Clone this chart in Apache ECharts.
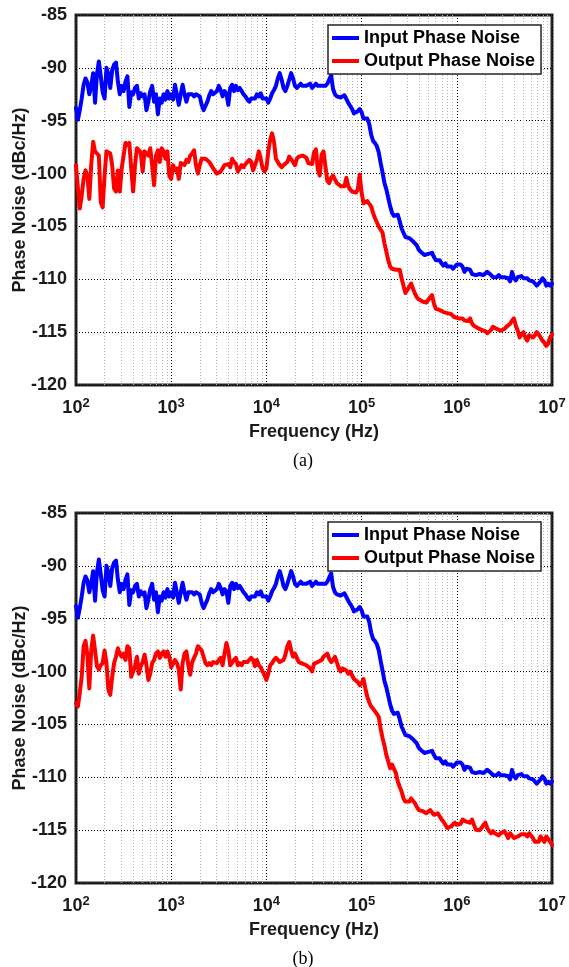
<!DOCTYPE html>
<html>
<head>
<meta charset="utf-8">
<script src="https://cdn.jsdelivr.net/npm/echarts@6/dist/echarts.min.js"></script>
<style>
  html, body { margin: 0; padding: 0; background: #fff; }
  #main { width: 569px; height: 967px; }
</style>
</head>
<body>
<div id="main"></div>
<script>
// measurement frequencies (Hz), 50 points per decade
var freq = [
  100, 104.7, 109.6, 114.8, 120.2, 125.9, 131.8, 138.0, 144.5, 151.4, 158.5, 166.0, 173.8, 182.0, 190.5, 199.5, 208.9, 218.8, 229.1, 239.9,
  251.2, 263.0, 275.4, 288.4, 302.0, 316.2, 331.1, 346.7, 363.1, 380.2, 398.1, 416.9, 436.5, 457.1, 478.6, 501.2, 524.8, 549.5, 575.4, 602.6,
  631.0, 660.7, 691.8, 724.4, 758.6, 794.3, 831.8, 871.0, 912.0, 955.0,
  1000, 1047, 1096, 1148, 1202, 1259, 1318, 1380, 1445, 1514, 1585, 1660, 1738, 1820, 1905, 1995, 2089, 2188, 2291, 2399,
  2512, 2630, 2754, 2884, 3020, 3162, 3311, 3467, 3631, 3802, 3981, 4169, 4365, 4571, 4786, 5012, 5248, 5495, 5754, 6026,
  6310, 6607, 6918, 7244, 7586, 7943, 8318, 8710, 9120, 9550,
  10000, 10470, 10960, 11480, 12020, 12590, 13180, 13800, 14450, 15140, 15850, 16600, 17380, 18200, 19050, 19950, 20890, 21880, 22910, 23990,
  25120, 26300, 27540, 28840, 30200, 31620, 33110, 34670, 36310, 38020, 39810, 41690, 43650, 45710, 47860, 50120, 52480, 54950, 57540, 60260,
  63100, 66070, 69180, 72440, 75860, 79430, 83180, 87100, 91200, 95500,
  100000, 104700, 109600, 114800, 120200, 125900, 131800, 138000, 144500, 151400, 158500, 166000, 173800, 182000, 190500, 199500, 208900, 218800, 229100, 239900,
  251200, 263000, 275400, 288400, 302000, 316200, 331100, 346700, 363100, 380200, 398100, 416900, 436500, 457100, 478600, 501200, 524800, 549500, 575400, 602600,
  631000, 660700, 691800, 724400, 758600, 794300, 831800, 871000, 912000, 955000,
  1e6, 1.047e6, 1.096e6, 1.148e6, 1.202e6, 1.259e6, 1.318e6, 1.38e6, 1.445e6, 1.514e6, 1.585e6, 1.66e6, 1.738e6, 1.82e6, 1.905e6, 1.995e6, 2.089e6, 2.188e6, 2.291e6, 2.399e6,
  2.512e6, 2.63e6, 2.754e6, 2.884e6, 3.02e6, 3.162e6, 3.311e6, 3.467e6, 3.631e6, 3.802e6, 3.981e6, 4.169e6, 4.365e6, 4.571e6, 4.786e6, 5.012e6, 5.248e6, 5.495e6, 5.754e6, 6.026e6,
  6.31e6, 6.607e6, 6.918e6, 7.244e6, 7.586e6, 7.943e6, 8.318e6, 8.71e6, 9.12e6, 9.55e6, 1e7
];

// input phase noise (same in both panels)
var inputPN = [
  -93.8, -94.9, -94.0, -92.9, -91.6, -91.0, -91.4, -92.5, -91.7, -90.5,
  -93.3, -90.6, -89.4, -90.8, -92.3, -92.9, -90.0, -90.6, -91.9, -90.2,
  -89.7, -89.5, -91.3, -92.5, -91.7, -92.2, -91.3, -90.8, -93.7, -92.3,
  -92.5, -91.9, -91.7, -92.9, -92.4, -92.7, -92.5, -94.0, -93.2, -92.2,
  -91.7, -93.2, -92.5, -94.4, -92.9, -93.3, -92.5, -93.0, -92.2, -92.9,
  -92.5, -93.0, -91.6, -91.7, -93.5, -92.5, -91.6, -92.5, -93.2, -92.5,
  -92.4, -92.5, -92.7, -92.5, -92.6, -92.7, -93.5, -94.0, -94.1, -93.2,
  -92.6, -92.2, -92.5, -92.5, -92.2, -91.7, -92.1, -92.7, -92.2, -92.4,
  -93.5, -91.9, -91.6, -92.2, -91.7, -92.1, -91.9, -92.2, -92.5, -92.7,
  -93.0, -93.2, -92.9, -93.0, -92.9, -92.5, -92.7, -92.4, -92.9, -92.9,
  -92.9, -93.3, -92.9, -92.4, -92.1, -91.7, -91.0, -90.5, -91.1, -91.9,
  -92.2, -91.7, -91.1, -90.5, -91.0, -91.7, -91.9, -91.7,
  -91.5, -91.7, -91.8, -91.7, -91.6, -91.5, -91.9, -92.0, -91.5, -91.7,
  -91.7, -91.7, -91.7, -91.7, -91.5, -91.5, -90.7, -92.0, -92.5, -92.7,
  -92.8, -92.8, -92.7, -92.6, -92.5, -93.3, -93.6, -93.9, -94.3, -94.4,
  -94.1, -93.9, -94.2, -94.8, -94.8, -94.8, -95.3, -96.3, -96.9, -97.1,
  -97.4, -98.0, -99.0, -99.9, -100.9, -101.5, -102.3, -103.1, -103.7, -104.0,
  -104.0, -103.9, -104.5, -105.2, -105.6, -106.0, -106.0, -106.1, -106.1, -106.4,
  -106.6, -106.8, -107.2, -107.4, -107.5, -107.7, -107.6, -107.6, -107.7, -107.5,
  -107.9, -108.2, -108.3, -108.2, -108.5, -108.7, -108.5, -108.8, -108.8, -108.8,
  -109.0, -109.1, -108.6, -108.5, -108.6, -108.8, -109.3, -109.0, -109.0, -109.1,
  -109.5, -109.6, -109.6, -109.5, -109.5, -109.5, -109.6, -109.6, -109.3, -109.3,
  -109.6, -109.8, -109.8, -109.8, -109.6, -109.8, -109.8, -109.8, -109.9, -109.9,
  -110.2, -109.3, -109.9, -110.1, -109.8, -109.8, -109.7, -109.9, -109.9, -109.9,
  -110.1, -110.2, -110.2, -110.4, -110.6, -110.4, -110.2, -109.9, -110.1, -110.6,
  -110.4, -110.6, -110.4
];

// output phase noise, panel (a)
var outputA = [
  -99.2, -101.4, -103.3, -102.1, -100.5, -99.7, -100.2, -102.4, -99.2, -97.0,
  -97.9, -98.1, -98.3, -102.7, -103.2, -100.2, -97.9, -97.9, -98.1, -99.2,
  -101.4, -101.7, -99.7, -101.7, -99.5, -98.3, -97.1, -97.3, -97.1, -99.5,
  -101.7, -99.2, -97.6, -97.6, -98.0, -99.8, -97.9, -97.8, -98.3, -97.6,
  -99.2, -101.1, -98.3, -97.8, -98.9, -97.6, -97.9, -98.6, -97.9, -100.2,
  -100.5, -99.2, -99.7, -99.5, -100.5, -99.0, -98.9, -99.2, -98.7, -98.9,
  -98.3, -98.1, -97.8, -99.2, -100.0, -99.2, -98.6, -98.7, -98.6, -98.7,
  -98.9, -99.2, -99.5, -99.4, -100.0, -99.9, -99.8, -99.5, -99.2, -99.1,
  -99.1, -99.4, -98.6, -98.9, -99.1, -99.8, -99.8, -99.2, -99.4, -99.1,
  -99.2, -98.7, -98.9, -99.7, -99.2, -98.7, -97.9, -98.6, -99.5, -99.8,
  -99.5, -97.9, -96.8, -96.2, -97.0, -98.6, -98.9, -99.2, -99.4, -99.2,
  -99.1, -98.9, -98.4, -98.3, -98.9, -99.2, -98.6, -98.4,
  -98.5, -98.3, -98.4, -98.5, -99.0, -99.1, -99.1, -98.0, -97.7, -99.6,
  -100.2, -98.2, -97.9, -99.3, -100.7, -100.9, -100.4, -100.2, -100.1, -100.9,
  -101.0, -101.2, -101.35, -101.2, -100.4, -101.2, -101.5, -101.7, -101.8, -101.8,
  -101.5, -100.1, -101.8, -102.8, -102.9, -102.6, -102.5, -103.1, -103.7, -104.2,
  -104.6, -105.0, -105.3, -105.6, -106.6, -107.4, -108.2, -108.8, -109.0, -109.0,
  -109.1, -109.0, -109.1, -109.9, -110.6, -111.3, -111.0, -110.7, -110.4, -110.9,
  -111.35, -111.7, -111.9, -112.0, -112.1, -112.2, -112.2, -112.1, -111.7, -111.5,
  -112.3, -112.8, -112.8, -112.9, -112.9, -113.1, -113.1, -113.2, -113.25, -113.3,
  -113.4, -113.6, -113.7, -113.7, -113.8, -113.7, -113.9, -113.9, -113.95, -113.7,
  -114.2, -114.4, -114.5, -114.6, -114.7, -114.8, -114.85, -114.9, -115.1, -115.15,
  -114.8, -114.5, -114.45, -114.7, -114.75, -114.85, -115.0, -114.7, -114.5, -114.4,
  -114.2, -113.9, -113.7, -114.4, -114.85, -115.5, -115.6, -115.0, -115.5, -115.8,
  -115.3, -115.2, -115.5, -115.3, -115.0, -115.2, -115.5, -115.8, -116.0, -116.3,
  -116.1, -115.5, -115.2
];

// output phase noise, panel (b)
var outputB = [
  -103.0, -103.3, -102.0, -100.5, -97.6, -97.1, -98.5, -101.6, -98.0, -96.6,
  -98.0, -99.5, -99.8, -99.4, -99.2, -98.0, -99.2, -101.7, -102.2, -100.5,
  -99.2, -98.6, -97.8, -98.3, -98.6, -98.3, -98.9, -97.6, -97.8, -100.5,
  -100.6, -99.5, -98.6, -100.2, -99.5, -99.1, -98.4, -99.4, -100.8, -100.2,
  -99.2, -98.9, -98.3, -98.1, -98.7, -98.3, -98.1, -98.6, -98.1, -98.6,
  -99.6, -99.7, -98.9, -99.2, -99.8, -101.7, -99.2, -98.3, -98.1, -99.4,
  -100.3, -99.1, -98.7, -98.3, -97.6, -97.8, -98.0, -98.6, -99.2, -99.4,
  -99.2, -99.4, -99.1, -99.2, -99.2, -98.9, -98.7, -99.4, -98.3, -97.3,
  -98.0, -99.4, -99.5, -98.9, -98.7, -99.4, -99.2, -99.4, -99.1, -99.2,
  -99.1, -98.9, -98.7, -98.9, -99.5, -98.9, -99.4, -99.6, -100.0, -100.3,
  -100.8, -100.2, -99.4, -99.2, -98.9, -98.7, -98.9, -99.1, -99.2, -98.9,
  -98.4, -97.6, -97.2, -98.0, -98.6, -98.3, -98.7, -99.1,
  -99.1, -99.25, -99.3, -99.4, -99.4, -99.7, -100.0, -99.25, -99.4, -99.1,
  -99.0, -98.9, -98.6, -98.5, -98.3, -98.8, -99.1, -98.9, -98.6, -99.1,
  -99.7, -100.0, -99.7, -99.6, -99.9, -100.2, -100.0, -100.35, -100.7, -100.8,
  -101.0, -101.3, -101.1, -100.7, -101.6, -102.4, -102.9, -103.3, -103.5, -103.5,
  -104.0, -104.3, -105.4, -106.3, -107.0, -107.9, -108.5, -109.15, -108.8, -108.7,
  -109.6, -110.4, -110.9, -111.35, -112.0, -112.3, -112.45, -112.3, -112.0, -112.1,
  -112.45, -112.8, -113.1, -113.2, -113.2, -113.2, -113.4, -113.24, -113.1, -113.24,
  -113.55, -113.7, -113.4, -113.55, -114.0, -114.2, -114.3, -114.8, -114.8, -114.65,
  -114.5, -114.3, -114.5, -114.65, -114.4, -114.0, -113.9, -114.2, -114.2, -114.3,
  -114.0, -114.5, -114.97, -115.1, -115.0, -114.8, -114.5, -114.3, -114.8, -115.1,
  -115.3, -115.1, -115.3, -115.4, -115.5, -115.3, -115.3, -115.1, -115.4, -115.75,
  -115.3, -115.3, -115.75, -115.9, -115.6, -115.6, -115.4, -115.3, -115.4, -115.6,
  -115.3, -115.4, -115.75, -116.1, -116.1, -116.1, -115.6, -115.75, -116.1, -115.6,
  -115.75, -116.1, -116.4
];

var seriesNames = ['Input Phase Noise', 'Output Phase Noise'];
var captions = ['(a)', '(b)'];
var decades = [100, 1000, 10000, 100000, 1000000];
var minorSteps = [2, 3, 4, 5, 6, 7, 8, 9];

var FONT = '"Liberation Sans", Arial, Helvetica, sans-serif';
var INK = '#1a1a1a';

function pairs(ys) {
  return freq.map(function (f, i) { return [f, ys[i]]; });
}

var minorLines = [];
decades.forEach(function (d) {
  minorSteps.forEach(function (m) { minorLines.push({ xAxis: m * d }); });
});

var panelTop = [15, 513];
var legendTop = [25, 522];
var outputs = [outputA, outputB];

var grids = [], xAxes = [], yAxes = [], series = [], legends = [], graphics = [];

panelTop.forEach(function (top, p) {
  grids.push({
    left: 76, top: top, width: 476, height: 370,
    outerBoundsMode: 'none', containLabel: false,
    show: true, backgroundColor: 'transparent',
    borderColor: '#262626', borderWidth: 3
  });
  xAxes.push({
    gridIndex: p, type: 'log', logBase: 10, min: 100, max: 1e7, splitNumber: 5,
    axisLine: { show: false }, axisTick: { show: false },
    splitLine: { show: true, lineStyle: { color: '#000', width: 1, type: [1, 2] } },
    axisLabel: {
      margin: 12,
      formatter: function (v) {
        return '{b|10}{e|' + Math.round(Math.log10(v)) + '}';
      },
      rich: {
        b: { fontSize: 18, fontWeight: 'bold', color: INK, fontFamily: FONT, lineHeight: 23 },
        e: { fontSize: 13, fontWeight: 'bold', color: INK, fontFamily: FONT, lineHeight: 13, verticalAlign: 'top' }
      }
    },
    name: 'Frequency (Hz)', nameLocation: 'middle', nameGap: 38, nameMoveOverlap: false,
    nameTextStyle: { fontSize: 18, fontWeight: 'bold', color: INK, fontFamily: FONT }
  });
  yAxes.push({
    gridIndex: p, type: 'value', min: -120, max: -85, interval: 5,
    axisLine: { show: false }, axisTick: { show: false },
    splitLine: { show: true, lineStyle: { color: '#000', width: 1, type: [1, 2] } },
    axisLabel: { margin: 9, fontSize: 18, fontWeight: 'bold', color: INK, fontFamily: FONT },
    name: 'Phase Noise (dBc/Hz)', nameLocation: 'middle', nameGap: 47, nameMoveOverlap: false,
    nameTextStyle: { fontSize: 18, fontWeight: 'bold', color: INK, fontFamily: FONT }
  });
  series.push({
    name: seriesNames[0], type: 'line', xAxisIndex: p, yAxisIndex: p,
    data: pairs(inputPN), showSymbol: false, symbol: 'none', z: 3,
    color: '#0000ff',
    lineStyle: { color: '#0000ff', width: 4, cap: 'round', join: 'round' },
    markLine: {
      z: 1, silent: true, symbol: ['none', 'none'], label: { show: false },
      lineStyle: { color: '#b4b4b4', width: 1, type: [1, 2] },
      emphasis: { disabled: true },
      data: minorLines
    }
  });
  series.push({
    name: seriesNames[1], type: 'line', xAxisIndex: p, yAxisIndex: p,
    data: pairs(outputs[p]), showSymbol: false, symbol: 'none', z: 3,
    color: '#ff0000',
    lineStyle: { color: '#ff0000', width: 4, cap: 'round', join: 'round' }
  });
  legends.push({
    data: seriesNames, left: 328, top: legendTop[p], orient: 'vertical',
    icon: 'rect', itemWidth: 27, itemHeight: 4, itemGap: 3,
    padding: [3, 6, 3, 4],
    backgroundColor: '#fff', borderColor: '#262626', borderWidth: 1.5,
    textStyle: { fontSize: 18, fontWeight: 'bold', color: '#000', fontFamily: FONT, lineHeight: 20 }
  });
  graphics.push({
    type: 'text', x: 303, y: top + 446,
    style: {
      text: captions[p], fill: '#000',
      font: '18px "Liberation Serif", "Times New Roman", serif',
      textAlign: 'center', textVerticalAlign: 'middle'
    }
  });
});

var myChart = echarts.init(document.getElementById('main'));
myChart.setOption({
  animation: false,
  backgroundColor: '#fff',
  grid: grids,
  xAxis: xAxes,
  yAxis: yAxes,
  legend: legends,
  series: series,
  graphic: graphics
});
</script>
</body>
</html>
